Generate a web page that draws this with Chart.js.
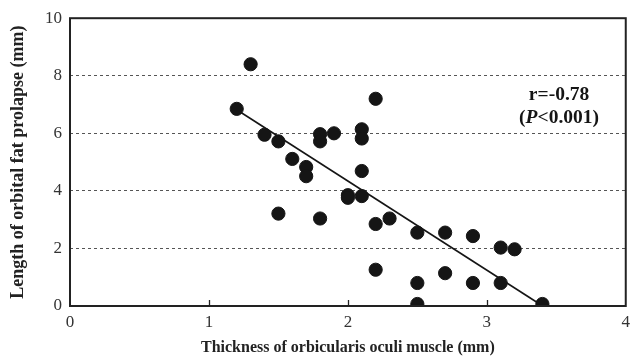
<!DOCTYPE html>
<html>
<head>
<meta charset="utf-8">
<script src="https://cdn.jsdelivr.net/npm/chart.js@4"></script>
<style>
  html, body { margin: 0; padding: 0; background: #fff; }
  #wrap { width: 636px; height: 359px; position: relative; }
</style>
</head>
<body>
<div id="wrap"><canvas id="chart"></canvas></div>
<script>
// thickness (mm) and prolapse length (mm)
const thickness = [1.3, 1.2, 2.2, 1.4, 1.5, 1.8, 1.8, 1.9, 2.1, 2.1, 1.6, 1.7, 1.7, 2.1, 2.0, 2.0, 2.1,
  1.5, 1.8, 2.2, 2.3, 2.2, 2.5, 2.7, 2.9, 3.1, 3.2, 2.7, 2.5, 2.9, 3.1, 2.5, 3.4];
const prolapse = [8.4, 6.85, 7.2, 5.95, 5.72, 5.97, 5.72, 6.0, 6.14, 5.82, 5.11, 4.83, 4.51, 4.69, 3.85, 3.76, 3.82,
  3.21, 3.04, 2.85, 3.04, 1.26, 2.55, 2.55, 2.43, 2.03, 1.97, 1.14, 0.8, 0.8, 0.8, 0.07, 0.07];

// regression line end points
const fitX = [1.2, 3.38];
const fitY = [6.82, 0.07];

const xTicks = [0, 1, 2, 3, 4];
const yTicks = [0, 2, 4, 6, 8, 10];

const SERIF = "'Liberation Serif', 'Times New Roman', serif";
const INK = '#151515';

// box round the plot + short inward ticks on the x axis + r / P text
const framePlugin = {
  id: 'frame',
  afterDatasetsDraw(chart) {
    const { ctx, chartArea: a, scales } = chart;
    ctx.save();
    ctx.strokeStyle = '#222';
    ctx.lineWidth = 2;
    ctx.strokeRect(a.left, a.top, a.right - a.left, a.bottom - a.top);

    ctx.lineWidth = 1.3;
    xTicks.slice(1, -1).forEach(v => {
      const px = Math.round(scales.x.getPixelForValue(v)) + 0.5;
      ctx.beginPath();
      ctx.moveTo(px, a.bottom);
      ctx.lineTo(px, a.bottom - 6);
      ctx.stroke();
    });

    // correlation note
    const cx = scales.x.getPixelForValue(3.52);
    ctx.fillStyle = INK;
    ctx.textAlign = 'center';
    ctx.textBaseline = 'middle';
    ctx.font = 'bold 19.5px ' + SERIF;
    ctx.fillText('r=-0.78', cx, scales.y.getPixelForValue(7.33));

    const parts = [
      ['(', 'bold 19.5px ' + SERIF],
      ['P', 'italic bold 19.5px ' + SERIF],
      ['<0.001)', 'bold 19.5px ' + SERIF],
    ];
    let total = 0;
    parts.forEach(([t, f]) => { ctx.font = f; total += ctx.measureText(t).width; });
    let x = cx - total / 2;
    const y2 = scales.y.getPixelForValue(6.54);
    ctx.textAlign = 'left';
    parts.forEach(([t, f]) => {
      ctx.font = f;
      ctx.fillText(t, x, y2);
      x += ctx.measureText(t).width;
    });
    ctx.restore();
  },
};

const points = thickness.map((x, i) => ({ x, y: prolapse[i] }));
const fitLine = fitX.map((x, i) => ({ x, y: fitY[i] }));

new Chart(document.getElementById('chart'), {
  type: 'scatter',
  data: {
    datasets: [
      {
        data: fitLine,
        showLine: true,
        borderColor: INK,
        borderWidth: 1.6,
        pointRadius: 0,
        order: 2,
      },
      {
        data: points,
        backgroundColor: INK,
        borderColor: INK,
        pointRadius: 6.6,
        pointHoverRadius: 6.6,
        order: 1,
      },
    ],
  },
  options: {
    responsive: true,
    maintainAspectRatio: false,
    animation: false,
    layout: { padding: { left: 0, right: 10, top: 14, bottom: 0 } },
    plugins: {
      legend: { display: false },
      tooltip: { enabled: false },
    },
    scales: {
      x: {
        type: 'linear',
        min: 0,
        max: 4,
        afterFit: s => { s.height = 53; },
        afterBuildTicks: s => { s.ticks = xTicks.map(v => ({ value: v })); },
        grid: { display: false, drawTicks: false },
        border: { display: false },
        ticks: {
          padding: 6,
          color: '#333',
          font: { family: SERIF, size: 17 },
        },
        title: {
          display: true,
          text: 'Thickness of orbicularis oculi muscle (mm)',
          color: '#222',
          font: { family: SERIF, size: 16, weight: 'bold' },
          padding: { top: 0, bottom: 2 },
        },
      },
      y: {
        type: 'linear',
        min: 0,
        max: 10,
        afterFit: s => { s.width = 70; },
        afterBuildTicks: s => { s.ticks = yTicks.map(v => ({ value: v })); },
        grid: {
          drawTicks: false,
          color: c => (c.tick.value === 0 || c.tick.value === 10 ? 'rgba(0,0,0,0)' : '#555'),
          lineWidth: 1,
        },
        border: { display: false, dash: [3, 3] },
        ticks: {
          padding: 8,
          color: '#333',
          font: { family: SERIF, size: 17 },
        },
        title: {
          display: true,
          text: 'Length of orbital fat prolapse (mm)',
          color: '#222',
          font: { family: SERIF, size: 18, weight: 'bold' },
          padding: { top: 8, bottom: 0 },
        },
      },
    },
  },
  plugins: [framePlugin],
});
</script>
</body>
</html>
